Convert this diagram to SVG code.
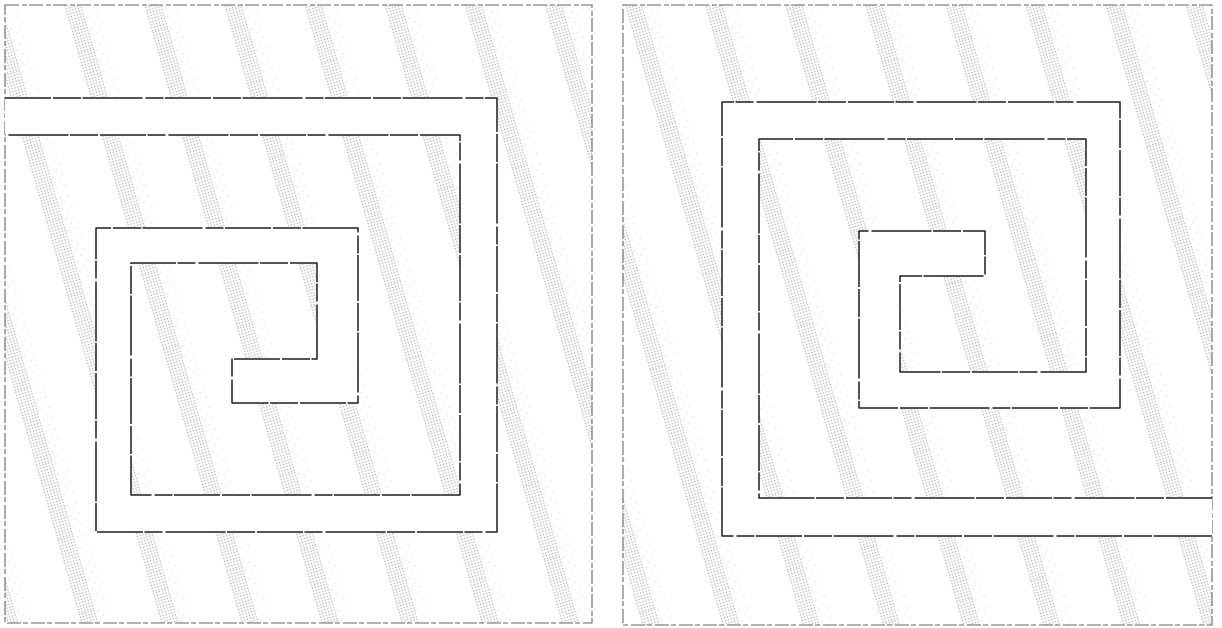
<svg xmlns="http://www.w3.org/2000/svg" width="1222" height="628" viewBox="0 0 1222 628">
  <style>
    .frame { fill: url(#hatch); stroke: #666; stroke-width: 1.1; stroke-dasharray: 14 3 5 2; }
    .channel { fill: #ffffff; stroke: none; }
    .wall { fill: none; stroke: #1e1e1e; stroke-width: 1.5; stroke-linejoin: round; stroke-dasharray: 46 2 28 1.5 60 3 18 1.5; }
  </style>
  <defs>
    <pattern id="dots" width="3" height="3" patternUnits="userSpaceOnUse">
      <circle cx="1.5" cy="1.5" r="0.75" fill="#a8a8a8"/>
    </pattern>
    <pattern id="sparse" width="9" height="11" patternUnits="userSpaceOnUse">
      <circle cx="2" cy="3" r="0.6" fill="#bdbdbd"/>
      <circle cx="6.5" cy="8.5" r="0.5" fill="#c8c8c8"/>
    </pattern>
    <pattern id="hatch" width="77" height="77" patternUnits="userSpaceOnUse" patternTransform="translate(-18 0) rotate(-16)">
      <rect x="0" y="0" width="77" height="77" fill="#ffffff"/>
      <rect x="-6" y="0" width="6" height="77" fill="url(#sparse)"/>
      <rect x="17" y="0" width="14" height="77" fill="url(#sparse)"/>
      <rect x="0" y="0" width="17" height="77" fill="url(#dots)"/>
    </pattern>
  </defs>
  <rect width="1222" height="628" fill="#ffffff"/>

  <g id="panel-left">
    <rect class="frame" x="5" y="5" width="587" height="618"/>
    <polygon class="channel" points="5,98 497,98 497,532 96,532 96,228 358,228 358,403 232,403 232,359 317,359 317,263 131,263 131,495 460,495 460,135 5,135"/>
    <polyline class="wall" points="5,98 497,98 497,532 96,532 96,228 358,228 358,403 232,403 232,359 317,359 317,263 131,263 131,495 460,495 460,135 5,135"/>
  </g>

  <g id="panel-right">
    <rect class="frame" x="623" y="5" width="589" height="620"/>
    <polygon class="channel" points="1212,498 759,498 759,139 1086,139 1086,372 900,372 900,276 985,276 985,231 859,231 859,408 1120,408 1120,102 722,102 722,536 1212,536"/>
    <polyline class="wall" points="1212,498 759,498 759,139 1086,139 1086,372 900,372 900,276 985,276 985,231 859,231 859,408 1120,408 1120,102 722,102 722,536 1212,536"/>
  </g>

  <g id="connectors"/>
</svg>
